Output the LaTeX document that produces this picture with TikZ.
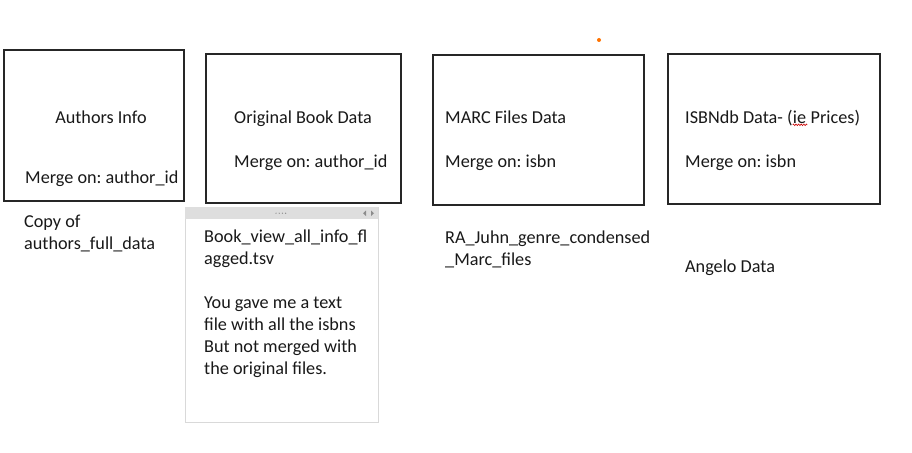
\documentclass[tikz,border=0pt]{standalone}
\usepackage{fontspec}
\setmainfont{Carlito}
\usetikzlibrary{decorations.pathmorphing}
\begin{document}
\begin{tikzpicture}[x=1pt,y=-1pt,
  databox/.style={draw=black!85,line width=1.4pt},
  lbl/.style={inner sep=0pt,anchor=base west,align=left,font=\fontsize{18.2}{22}\selectfont\frenchspacing,text=black!90}]
\fill[white] (0,0) rectangle (912,452);
\useasboundingbox (0,0) rectangle (912,452);
% boxes
\draw[databox] (4,50) rectangle (184,201);
\draw[databox] (206,54) rectangle (401,203);
\draw[databox] (433,55) rectangle (644,205);
\draw[databox] (668,54) rectangle (880,204);
\node[lbl,anchor=base] (t1) at (101,123) {Authors Info};
\node[lbl] (m1) at (25,183) {Merge on: author\_id};
\node[lbl] (t2) at (234,123) {Original Book Data};
\node[lbl] (m2) at (234,167) {Merge on: author\_id};
\node[lbl] (t3) at (445,123) {MARC Files Data};
\node[lbl] (m3) at (445,167) {Merge on: isbn};
\node[lbl] (t4a) at (685,123) {ISBNdb Data- (};
\node[lbl] (t4b) at (t4a.base east) {ie};
\node[lbl] (t4c) at (t4b.base east) {\ Prices)};
\draw[red!80!black,line width=0.6pt,decorate,decoration={zigzag,segment length=2.6pt,amplitude=0.8pt}]
  ([yshift=-1.8pt]t4b.base west) -- ([yshift=-1.8pt,xshift=1pt]t4b.base east);
\node[lbl] (m4) at (685,167) {Merge on: isbn};
% captions
\node[lbl,anchor=north west] (c1) at (24,215) {Copy of\\authors\_full\_data};
% panel
\draw[black!15,line width=0.8pt,fill=white] (185,207) rectangle (378,422);
\fill[black!13] (185.4,207.4) rectangle (377.6,219);
\foreach \i in {0,1,2,3} \fill[black!45] (276+\i*3.2,213.2) circle (0.7);
\fill[black!45] (366,210.5) -- (366,216) -- (363,213.25) -- cycle;
\fill[black!45] (371,210.5) -- (371,216) -- (374,213.25) -- cycle;
\node[lbl,anchor=north west] (c2) at (204,230) {Book\_view\_all\_info\_fl\\agged.tsv\\[22pt]You gave me a text\\file with all the isbns\\But not merged with\\the original files.};
\node[lbl,anchor=north west] (c3) at (445,231) {RA\_Juhn\_genre\_condensed\\\_Marc\_files};
\node[lbl,anchor=west] (c4) at (685,268) {Angelo Data};
\fill[orange!90!red] (599,40) circle (2);
\end{tikzpicture}
\end{document}
